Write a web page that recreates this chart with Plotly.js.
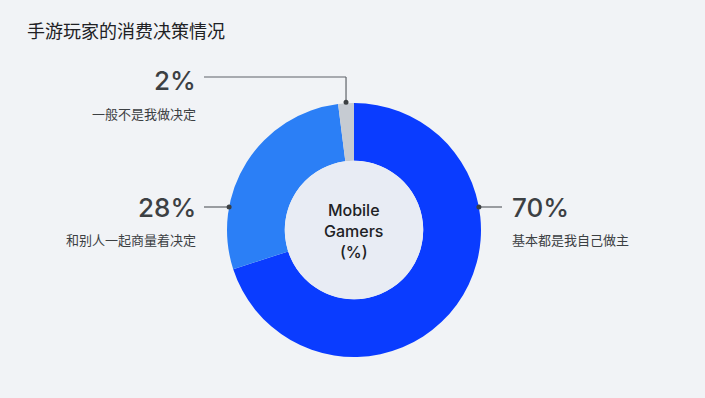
<!DOCTYPE html>
<html><head><meta charset="utf-8">
<script src="https://cdn.plot.ly/plotly-3.0.1.min.js"></script>
<style>html,body{margin:0;padding:0;background:#f1f3f6;}#chart{width:705px;height:398px;}</style>
</head><body><div id="chart"></div>
<script>
const title = "手游玩家的消费决策情况";
const categories = ["基本都是我自己做主", "和别人一起商量着决定", "一般不是我做决定"];
const values = [70, 28, 2];
const colors = ["#0a3cff", "#2b7ff6", "#c6cbd2"];
const centerLabel = "Mobile<br>Gamers<br>(%)";

const W = 705, H = 398;
const cx = 354, cy = 230, R = 127, hole = 0.545;
const px = x => x / W, py = y => 1 - y / H;
const textFont = "Inter, 'Noto Sans CJK SC', sans-serif";
const cjk = "'Noto Sans CJK SC', sans-serif";
const dark = "#3c4043", lineCol = "#5f6368";

const shapes = [{type:"circle", xref:"paper", yref:"paper", layer:"above",
  x0:px(cx-R*hole), x1:px(cx+R*hole), y0:py(cy+R*hole), y1:py(cy-R*hole),
  fillcolor:"#e8ecf4", line:{width:0}}];
const annotations = [];
function dot(x,y){shapes.push({type:"circle",xref:"paper",yref:"paper",layer:"above",
  x0:px(x-2.5),x1:px(x+2.5),y0:py(y+2.5),y1:py(y-2.5),fillcolor:"#3c4043",line:{width:0}});}
function seg(x0,y0,x1,y1){shapes.push({type:"line",xref:"paper",yref:"paper",layer:"above",
  x0:px(x0),x1:px(x1),y0:py(y0),y1:py(y1),line:{color:lineCol,width:1.2}});}
function label(i, x, y, anchor){
  annotations.push({xref:"paper",yref:"paper",x:px(x),y:py(y),xanchor:anchor,yanchor:"middle",
    text:values[i]+"%",showarrow:false,font:{family:textFont,size:26,color:dark,weight:500}});
  annotations.push({xref:"paper",yref:"paper",x:px(x),y:py(y+32),xanchor:anchor,yanchor:"middle",
    text:categories[i],showarrow:false,font:{family:cjk,size:13,color:dark}});
}
const ly = 207;
const dx = Math.sqrt(R*R - (cy-ly)*(cy-ly));
seg(cx+dx, ly, 502, ly); dot(cx+dx, ly); label(0, 510, ly, "left");
seg(204, ly, cx-dx, ly); dot(cx-dx, ly); label(1, 198, ly, "right");
let cum = 0; for (let k=0;k<2;k++) cum += values[k];
const total = values.reduce((a,b)=>a+b,0);
const ang = (cum + values[2]/2)/total*2*Math.PI;
const sx = cx + R*Math.sin(ang), sy = cy - R*Math.cos(ang) - 1;
seg(sx, sy, sx, 77); seg(sx, 77, 204, 77); dot(sx, sy); label(2, 198, 81, "right");

annotations.push({xref:"paper",yref:"paper",x:px(cx),y:py(cy+1),xanchor:"center",yanchor:"middle",
  text:centerLabel,showarrow:false,font:{family:textFont,size:16,color:"#202124",weight:500}});

const data = [{type:"pie", labels:categories, values:values, sort:false, direction:"clockwise",
  rotation:0, hole:hole, marker:{colors:colors, line:{width:0}}, textinfo:"none", hoverinfo:"none",
  showlegend:false, domain:{x:[px(cx-R), px(cx+R)], y:[py(cy+R), py(cy-R)]}}];

const layout = {width:W, height:H, margin:{l:0,r:0,t:0,b:0}, paper_bgcolor:"#f1f3f6",
  title:{text:title, x:px(27), xanchor:"left", y:py(32), yanchor:"middle",
    font:{family:cjk, size:18, color:"#202124", weight:400}},
  shapes:shapes, annotations:annotations, showlegend:false};
Plotly.newPlot("chart", data, layout, {staticPlot:true});
</script></body></html>
